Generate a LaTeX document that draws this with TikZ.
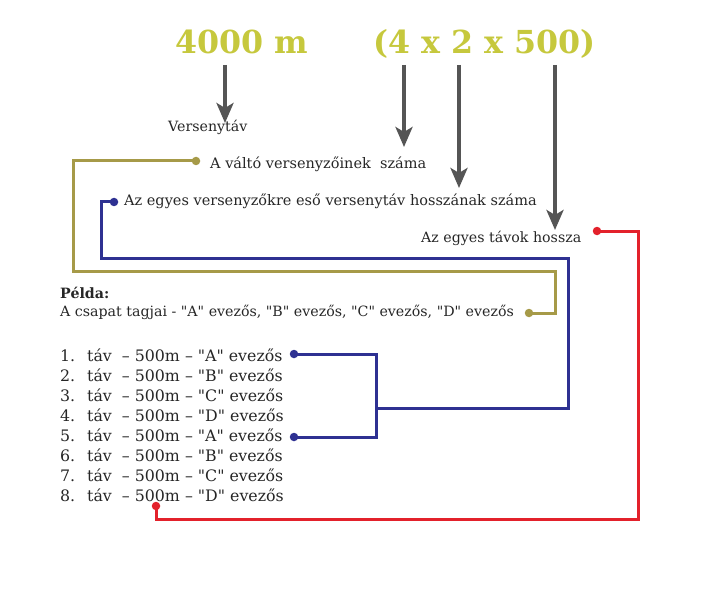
\documentclass[tikz,border=0pt]{standalone}
\usepackage{fontspec}
\setmainfont{DejaVu Serif}[Ligatures=TeXOff]
\usetikzlibrary{arrows.meta}
\definecolor{titlec}{HTML}{C6C83D}
\definecolor{olivec}{HTML}{A69A48}
\definecolor{bluec}{HTML}{2E3192}
\definecolor{redc}{HTML}{E3212B}
\definecolor{grayc}{HTML}{555555}
\tikzset{
  titletext/.style={anchor=base west,inner sep=0pt,text=titlec,font=\fontsize{31.7}{34}\selectfont\bfseries},
  bodytext/.style={anchor=base west,inner sep=0pt,text=black!85,font=\fontsize{14.2}{16}\selectfont},
  longtext/.style={bodytext,font=\fontsize{14.5}{16}\selectfont},
  listtext/.style={anchor=base west,inner sep=0pt,text=black!85,font=\fontsize{15.8}{18}\selectfont},
  bigarrow/.style={draw=grayc,line width=4pt,-{Stealth[width=17pt,length=20pt,inset=5pt]}},
  oliveline/.style={draw=olivec,line width=3pt},
  blueline/.style={draw=bluec,line width=3pt},
  redline/.style={draw=redc,line width=3pt},
  dotstyle/.style={circle,inner sep=0pt,minimum size=8.5pt},
}
\begin{document}
\begin{tikzpicture}[x=1pt,y=-1pt]
\useasboundingbox (0,0) rectangle (702,591);
% titles
\node[titletext] (t1) at (175,54) {4000 m};
\node[titletext] (t2) at (373,54) {(4 x 2 x 500)};
% texts
\node[bodytext] (vt) at (168,132) {Versenytáv};
\node[longtext] (lab1) at (210,168) {A váltó versenyzőinek\ \ száma};
\node[longtext] (lab2) at (124,206) {Az egyes versenyzőkre eső versenytáv hosszának száma};
\node[bodytext] (lab3) at (421,242) {Az egyes távok hossza};
\node[bodytext,font=\fontsize{14.2}{16}\selectfont\bfseries] (pelda) at (60,298) {Példa:};
\node[bodytext] (csapat) at (60,316) {A csapat tagjai - "A" evezős, "B" evezős, "C" evezős, "D" evezős};
\foreach \i/\r in {1/A,2/B,3/C,4/D,5/A,6/B,7/C,8/D}{
  \node[listtext] (n\i) at (60,{361+20*(\i-1)}) {\i.};
  \node[listtext] (l\i) at (87,{361+20*(\i-1)}) {táv\ \ – 500m – "\r" evezős};
}
% gray arrows
\coordinate (a1s) at (225,65); \coordinate (a1e) at (225,123);
\coordinate (a2s) at (404,65); \coordinate (a2e) at (404,147);
\coordinate (a3s) at (459,65); \coordinate (a3e) at (459,188);
\coordinate (a4s) at (555,65); \coordinate (a4e) at (555,230);
\draw[bigarrow] (a1s) -- (a1e);
\draw[bigarrow] (a2s) -- (a2e);
\draw[bigarrow] (a3s) -- (a3e);
\draw[bigarrow] (a4s) -- (a4e);
% olive
\node[dotstyle,fill=olivec] (od1) at (196,161) {};
\node[dotstyle,fill=olivec] (od2) at (529,313) {};
\draw[oliveline] (od1.center) -- (73,161) -- (73,271) -- (555,271) -- (555,313) -- (od2.center);
% blue
\node[dotstyle,fill=bluec] (bd1) at (114,202) {};
\node[dotstyle,fill=bluec] (bd2) at (294,354) {};
\node[dotstyle,fill=bluec] (bd3) at (294,437) {};
\draw[blueline] (bd1.center) -- (101,202) -- (101,258) -- (568,258) -- (568,408) -- (376,408);
\draw[blueline] (bd2.center) -- (376,354) -- (376,437) -- (bd3.center);
% red
\node[dotstyle,fill=redc] (rd1) at (597,231) {};
\node[dotstyle,fill=redc] (rd2) at (156,506) {};
\draw[redline] (rd1.center) -- (638,231) -- (638,519) -- (156,519) -- (rd2.center);
\end{tikzpicture}
\end{document}
